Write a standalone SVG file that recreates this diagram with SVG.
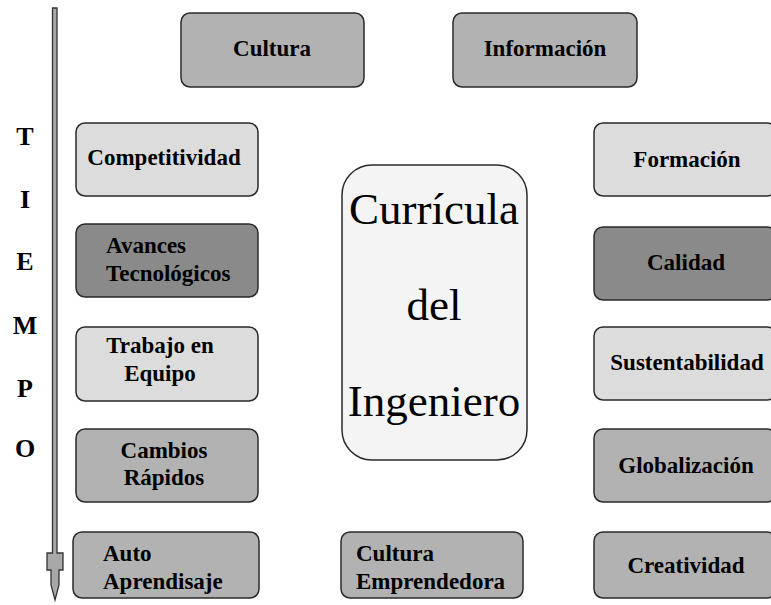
<svg xmlns="http://www.w3.org/2000/svg" width="771" height="605" viewBox="0 0 771 605">
<style>
.b rect{stroke:#2a2a2a;stroke-width:1.5}
.l{fill:#dcdcdc}.m{fill:#b2b2b2}.d{fill:#8a8a8a}
text{font-family:"Liberation Serif","Times New Roman",serif;fill:#000}
.t{font-size:23px;font-weight:bold}
.c{text-anchor:middle}
.big{font-size:45px;text-anchor:middle}
.tm{font-size:26px;font-weight:bold;text-anchor:middle}
</style>
<rect width="771" height="605" fill="#fff"/>
<g id="connectors">
<path d="M52.5 8 L57 8 L57 553 L63 553 L63 570 L59 570 L59 585 L55 600 L51 585 L51 570 L47 570 L47 553 L52.5 553 Z" fill="#a8a8a8" stroke="#333" stroke-width="1.3"/>
</g>
<g id="tiempo">
<text class="tm" x="25" y="145">T</text>
<text class="tm" x="25" y="208">I</text>
<text class="tm" x="25" y="270">E</text>
<text class="tm" x="25" y="334">M</text>
<text class="tm" x="25" y="397">P</text>
<text class="tm" x="25" y="457">O</text>
</g>
<g id="cultura" class="b"><rect class="m" x="181" y="13" width="183" height="74" rx="9"/><text class="t c" x="272" y="56">Cultura</text></g>
<g id="informacion" class="b"><rect class="m" x="453" y="13" width="184" height="74" rx="9"/><text class="t c" x="545" y="56">Información</text></g>
<g id="competitividad" class="b"><rect class="l" x="76" y="123" width="182" height="73" rx="9"/><text class="t c" x="164" y="165">Competitividad</text></g>
<g id="avances" class="b"><rect class="d" x="76" y="224" width="182" height="73" rx="9"/><text class="t" x="106" y="253">Avances</text><text class="t" x="106" y="281">Tecnológicos</text></g>
<g id="trabajo" class="b"><rect class="l" x="76" y="327" width="182" height="74" rx="9"/><text class="t c" x="160" y="353">Trabajo en</text><text class="t c" x="160" y="381">Equipo</text></g>
<g id="cambios" class="b"><rect class="m" x="76" y="429" width="182" height="73" rx="9"/><text class="t c" x="164" y="458">Cambios</text><text class="t c" x="164" y="485">Rápidos</text></g>
<g id="auto" class="b"><rect class="m" x="73" y="532" width="186" height="66" rx="9"/><text class="t" x="103" y="561">Auto</text><text class="t" x="103" y="589">Aprendisaje</text></g>
<g id="emprendedora" class="b"><rect class="m" x="341" y="532" width="182" height="66" rx="9"/><text class="t" x="356" y="561">Cultura</text><text class="t" x="356" y="589">Emprendedora</text></g>
<g id="creatividad" class="b"><rect class="m" x="594" y="532" width="182" height="66" rx="9"/><text class="t c" x="686" y="573">Creatividad</text></g>
<g id="formacion" class="b"><rect class="l" x="594" y="123" width="182" height="73" rx="9"/><text class="t c" x="687" y="167">Formación</text></g>
<g id="calidad" class="b"><rect class="d" x="594" y="227" width="182" height="73" rx="9"/><text class="t c" x="686" y="270">Calidad</text></g>
<g id="sustentabilidad" class="b"><rect class="l" x="594" y="327" width="182" height="73" rx="9"/><text class="t c" x="687" y="370">Sustentabilidad</text></g>
<g id="globalizacion" class="b"><rect class="m" x="594" y="429" width="182" height="73" rx="9"/><text class="t c" x="686" y="473">Globalización</text></g>
<g id="curricula" class="b"><rect fill="#f4f4f4" x="342" y="165" width="185" height="295" rx="30"/><text class="big" x="434" y="224">Currícula</text><text class="big" x="434" y="320">del</text><text class="big" x="434" y="416">Ingeniero</text></g>
</svg>
